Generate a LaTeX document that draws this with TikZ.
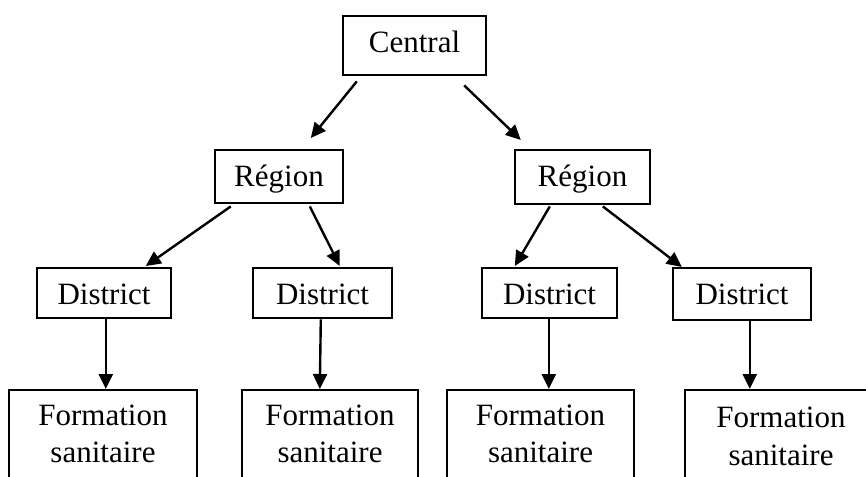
\documentclass[tikz,border=0pt]{standalone}
\usepackage{fontspec}
\setmainfont{Liberation Serif}
\usetikzlibrary{arrows.meta,calc}
\begin{document}
\begin{tikzpicture}[x=1pt,y=-1pt,
  box/.style={draw,line width=2.4pt,anchor=north,inner xsep=0pt,inner ysep=0pt,
    text height=36pt,font=\fontsize{31}{38}\selectfont},
  fbox/.style={draw,line width=2.4pt,anchor=north,minimum height=140pt,inner sep=0pt},
  ftext/.style={anchor=base,inner sep=0pt,font=\fontsize{31}{38}\selectfont},
  link/.style={line width=2.4pt,-{Triangle[length=15pt,width=14pt]}}]

\useasboundingbox (0,0) rectangle (866,476);
\fill[white] (0,0) rectangle (866,476);
\clip (0,0) rectangle (866,476);

% top level
\node[box,minimum width=143pt,text depth=23pt] (central) at (414.5,15) {Central};

% regions
\node[box,minimum width=128pt,text depth=17pt] (r1) at (279,149) {Région};
\node[box,minimum width=135pt,text depth=18pt] (r2) at (582.5,149) {Région};

% districts
\node[box,minimum width=134pt,text depth=14pt] (d1) at (104,267) {District};
\node[box,minimum width=139pt,text depth=14pt] (d2) at (322.5,267) {District};
\node[box,minimum width=135pt,text depth=14pt] (d3) at (549.5,267) {District};
\node[box,minimum width=138pt,text depth=16pt] (d4) at (742,267) {District};

% health facilities
\node[fbox,minimum width=188pt] (f1) at (103,389) {};
\node[fbox,minimum width=176pt] (f2) at (330,389) {};
\node[fbox,minimum width=187pt] (f3) at (540.5,389) {};
\node[fbox,minimum width=192pt] (f4) at (781,389) {};
\node[ftext] (f1a) at ($(f1.north)+(0,36)$) {Formation};
\node[ftext] (f1b) at ($(f1.north)+(0,73)$) {sanitaire};
\node[ftext] (f2a) at ($(f2.north)+(0,36)$) {Formation};
\node[ftext] (f2b) at ($(f2.north)+(0,73)$) {sanitaire};
\node[ftext] (f3a) at ($(f3.north)+(0,36)$) {Formation};
\node[ftext] (f3b) at ($(f3.north)+(0,73)$) {sanitaire};
\node[ftext] (f4a) at ($(f4.north)+(0,38)$) {Formation};
\node[ftext] (f4b) at ($(f4.north)+(0,76)$) {sanitaire};

% connectors
\draw[link] ($(central.south west)+(15,5)$) -- ($(r1.north west)+(97,-11)$);
\draw[link] ($(central.south east)+(-23,9)$) -- ($(r2.north west)+(7,-9)$);

\draw[link] ($(r1.south west)+(17,2)$) -- ($(d1.north west)+(110,-1)$);
\draw[link] ($(r1.south west)+(96,2)$) -- ($(d2.north west)+(88,-1)$);
\draw[link] ($(r2.south west)+(36,1)$) -- ($(d3.north west)+(34,-1)$);
\draw[link] ($(r2.south west)+(89,1)$) -- ($(d4.north west)+(10,0)$);

\draw[link] ($(d1.south west)+(70,0)$) -- ($(f1.north west)+(98,0)$);
\draw[link] ($(d2.south west)+(69,0)$) -- ($(f2.north west)+(79,0)$);
\draw[link] ($(d3.south west)+(68,0)$) -- ($(f3.north west)+(103,0)$);
\draw[link] ($(d4.south west)+(78,0)$) -- ($(f4.north west)+(66,0)$);
\end{tikzpicture}
\end{document}
